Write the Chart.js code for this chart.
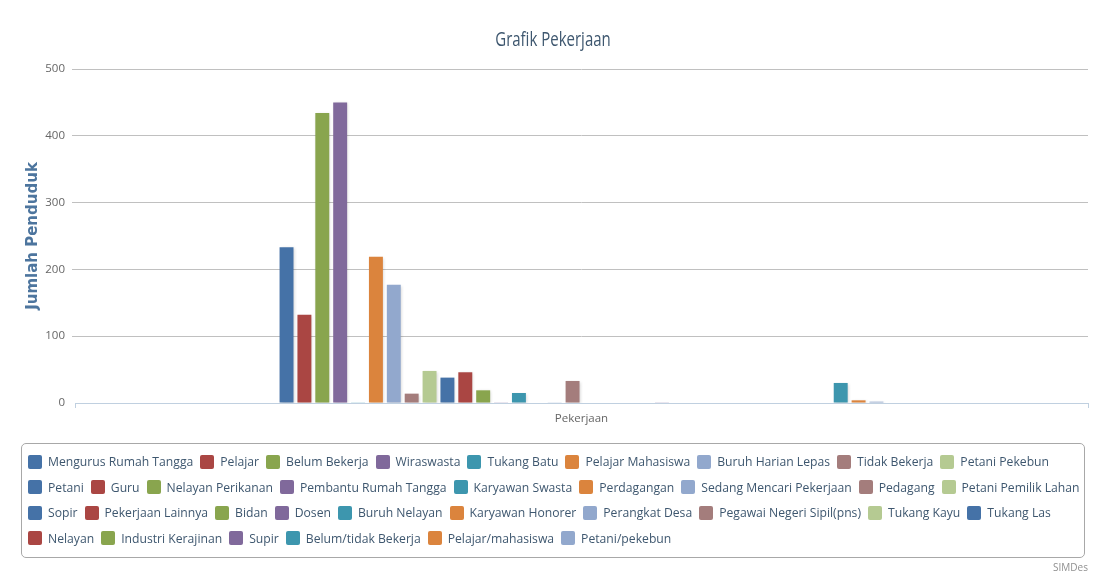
<!DOCTYPE html>
<html>
<head>
<meta charset="utf-8">
<script src="https://cdn.jsdelivr.net/npm/chart.js@4.4.0/dist/chart.umd.min.js"></script>
<style>
html,body{margin:0;padding:0;background:#fff;}
#wrap{position:relative;width:1094px;height:579px;overflow:hidden;background:#fff;}
#c{position:absolute;left:0;top:0;}
#legend{position:absolute;left:21px;top:443px;width:1064px;height:115px;box-sizing:border-box;border:1px solid #a8a8a8;border-radius:5px;padding:5px 0 0 6px;font-family:'Open Sans',sans-serif;font-size:12.7px;color:#3E576F;overflow:hidden;}
.row{display:flex;flex-wrap:nowrap;column-gap:7px;height:25.5px;align-items:center;white-space:nowrap;}
.item{display:flex;align-items:center;white-space:nowrap;}
.sw{width:14px;height:14px;border-radius:2px;margin-right:6px;flex:none;}
#credit{position:absolute;right:6px;top:560px;font:10px 'Open Sans',sans-serif;color:#909090;}
</style>
</head>
<body>
<div id="wrap">
  <canvas id="c" width="1094" height="579"></canvas>
  <div id="legend"></div>
  <div id="credit">SIMDes</div>
</div>
<script>
// ---- data ----
const categories = ['Pekerjaan'];
const seriesNames = [
  'Mengurus Rumah Tangga','Pelajar','Belum Bekerja','Wiraswasta','Tukang Batu','Pelajar Mahasiswa','Buruh Harian Lepas','Tidak Bekerja','Petani Pekebun',
  'Petani','Guru','Nelayan Perikanan','Pembantu Rumah Tangga','Karyawan Swasta','Perdagangan','Sedang Mencari Pekerjaan','Pedagang','Petani Pemilik Lahan',
  'Sopir','Pekerjaan Lainnya','Bidan','Dosen','Buruh Nelayan','Karyawan Honorer','Perangkat Desa','Pegawai Negeri Sipil(pns)','Tukang Kayu','Tukang Las',
  'Nelayan','Industri Kerajinan','Supir','Belum/tidak Bekerja','Pelajar/mahasiswa','Petani/pekebun'
];
const seriesValues = [
  233, 132, 434, 450, 1, 219, 177, 14, 48,
  38, 46, 19, 1, 15, 0, 1, 33, 0,
  0, 0, 0, 1, 0, 0, 0, 0, 0, 0,
  0, 0, 0, 30, 4, 2
];
const yTicks = [0, 100, 200, 300, 400, 500];
const chartTitle = 'Grafik Pekerjaan';
const yTitle = 'Jumlah Penduduk';

// ---- style / layout ----
const palette = ['#4572A7','#AA4643','#89A54E','#80699B','#3D96AE','#DB843D','#92A8CD','#A47D7C','#B5CA92'];
const legendRowSizes = [9, 9, 10, 6];              // items per legend row, as in the reference
const legendRowTextTargets = [789, 815, 768, 514]; // max label text width per row (px)
const titleCenterX = 553;
const titleScaleX = 0.75;

Chart.defaults.font.family = "'Open Sans', sans-serif";

const shadowPlugin = {
  id: 'barShadow',
  beforeDatasetsDraw(chart) {
    const c = chart.ctx;
    c.save();
    c.shadowColor = 'rgba(0,0,0,0.16)';
    c.shadowBlur = 3;
    c.shadowOffsetX = 1;
    c.shadowOffsetY = 1;
  },
  afterDatasetsDraw(chart) { chart.ctx.restore(); }
};

const datasets = seriesNames.map((name, i) => ({
  label: name,
  data: [seriesValues[i]],
  backgroundColor: palette[i % palette.length],
  borderWidth: 0,
  barPercentage: 0.78,
  categoryPercentage: 0.6
}));

const chart = new Chart(document.getElementById('c'), {
  type: 'bar',
  data: { labels: categories, datasets },
  plugins: [shadowPlugin],
  options: {
    responsive: false,
    animation: false,
    layout: { padding: { left: 0, right: 6, top: 0, bottom: 146 } },
    plugins: {
      legend: { display: false },
      tooltip: { enabled: false },
      title: {
        display: true,
        text: chartTitle,
        color: '#3E576F',
        font: { size: 20, weight: 'normal' },
        padding: { top: 28.5, bottom: 16.5 }
      }
    },
    scales: {
      x: {
        offset: true,
        grid: { display: true, drawOnChartArea: false, drawTicks: true, tickLength: 5, color: '#C0D0E0', offset: true },
        border: { display: true, color: '#C0D0E0' },
        ticks: { color: '#666666', font: { size: 11.5 }, padding: 4 },
        afterFit: s => { s.height = 30; }
      },
      y: {
        min: 0,
        max: 500,
        afterBuildTicks: s => { s.ticks = yTicks.map(v => ({ value: v })); },
        grid: { color: ctx => (ctx.tick && ctx.tick.value === 0 ? 'rgba(0,0,0,0)' : '#C0C0C0'), tickLength: 3 },
        border: { display: false },
        ticks: { color: '#666666', font: { size: 11.5 }, padding: 7 },
        title: {
          display: true,
          text: yTitle,
          color: '#4D759E',
          font: { family: "'DejaVu Sans', sans-serif", size: 15, weight: 'bold' },
          padding: { top: 24 }
        },
        afterFit: s => { s.width = 75; }
      }
    }
  }
});

// condensed title (the reference uses a narrow face): scale the title box horizontally
const tb = chart.titleBlock;
const origTitleDraw = tb.draw.bind(tb);
tb.draw = function () {
  const c = this.ctx;
  const cx = (this.left + this.right) / 2;
  c.save();
  c.translate(titleCenterX, 0);
  c.scale(titleScaleX, 1);
  c.translate(-cx, 0);
  origTitleDraw();
  c.restore();
};
chart.draw();

// HTML legend built from the chart's datasets
const leg = document.getElementById('legend');
const textSpans = [];
let idx = 0;
legendRowSizes.forEach(n => {
  const row = document.createElement('div');
  row.className = 'row';
  const spans = [];
  for (let k = 0; k < n && idx < chart.data.datasets.length; k++, idx++) {
    const ds = chart.data.datasets[idx];
    const it = document.createElement('div');
    it.className = 'item';
    const sw = document.createElement('span');
    sw.className = 'sw';
    sw.style.background = ds.backgroundColor;
    const tx = document.createElement('span');
    tx.textContent = ds.label;
    it.appendChild(sw);
    it.appendChild(tx);
    row.appendChild(it);
    spans.push(tx);
  }
  textSpans.push(spans);
  leg.appendChild(row);
});
// fit the legend font so that no row is wider than in the reference
const base = 12.7;
let ratio = Infinity;
textSpans.forEach((spans, r) => {
  let w = 0;
  spans.forEach(s => { w += s.getBoundingClientRect().width; });
  if (w > 0) ratio = Math.min(ratio, legendRowTextTargets[r] / w);
});
if (isFinite(ratio)) {
  leg.style.fontSize = (base * ratio).toFixed(2) + 'px';
}
</script>
</body>
</html>
